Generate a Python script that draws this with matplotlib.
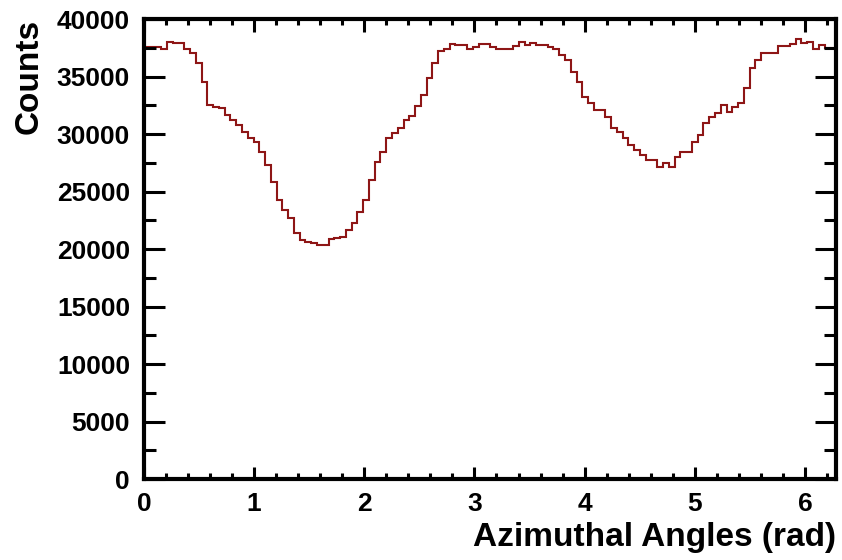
import numpy as np
import matplotlib
matplotlib.use('Agg')
import matplotlib.pyplot as plt
from matplotlib.ticker import MultipleLocator

# Azimuthal angle histogram, 120 bins over [0, 2pi]
nBins = 120
xMin = 0.0
xMax = 2 * np.pi
counts = [
    37560, 37560, 37560, 37380, 38050, 37900, 37900, 37380, 37030, 36160,
    34570, 32540, 32400, 32250, 31670, 31240, 30800, 30220, 29700, 29350,
    28480, 27320, 25870, 24280, 23410, 22680, 21380, 20800, 20650, 20510,
    20370, 20400, 20860, 20950, 21090, 21670, 22300, 23200, 24300, 26000,
    27600, 28490, 29650, 30090, 30520, 31250, 31540, 32410, 33430, 34870,
    36180, 37200, 37380, 37820, 37760, 37760, 37380, 37610, 37850, 37850,
    37610, 37380, 37380, 37380, 37670, 38050, 37760, 37900, 37760, 37760,
    37610, 37380, 36890, 36450, 35440, 34570, 33270, 32690, 32110, 32110,
    31530, 30510, 30220, 29640, 29100, 28630, 28190, 27760, 27760, 27120,
    27470, 27120, 28050, 28490, 28490, 29350, 29930, 30940, 31530, 31820,
    32540, 31960, 32400, 32690, 34000, 35730, 36460, 37100, 37040, 37040,
    37670, 37670, 37850, 38250, 37960, 38050, 37380, 37760, 37470, 37470,
]
yTicks = [0, 5000, 10000, 15000, 20000, 25000, 30000, 35000, 40000]
xLabel = 'Azimuthal Angles (rad)'
yLabel = 'Counts'

plt.rcParams['font.family'] = ['Liberation Sans', 'DejaVu Sans']
plt.rcParams['font.weight'] = 'bold'

edges = np.linspace(xMin, xMax, nBins + 1)

fig = plt.figure(figsize=(8.42, 5.6), dpi=100)
ax = fig.add_axes([0.171, 0.1443, 0.822, 0.8214])

ax.stairs(counts, edges, color='#8e1616', linewidth=1.5)

ax.set_xlim(xMin, xMax)
ax.set_ylim(0, 40000)
ax.set_yticks(yTicks)
ax.xaxis.set_major_locator(MultipleLocator(1))
ax.xaxis.set_minor_locator(MultipleLocator(0.2))
ax.yaxis.set_minor_locator(MultipleLocator(2500))

ax.tick_params(axis='both', which='both', direction='in', top=True, right=True,
               labelsize=19, width=2.2, colors='black')
ax.tick_params(axis='x', which='major', length=9, pad=9)
ax.tick_params(axis='x', which='minor', length=4.5)
ax.tick_params(axis='y', which='major', length=15, pad=10)
ax.tick_params(axis='y', which='minor', length=8.5)
for lab in ax.get_xticklabels() + ax.get_yticklabels():
    lab.set_fontweight('bold')

for spine in ax.spines.values():
    spine.set_linewidth(3)

ax.set_xlabel(xLabel, fontsize=24, fontweight='bold', loc='right')
ax.set_ylabel(yLabel, fontsize=24, fontweight='bold', loc='top')
ax.xaxis.set_label_coords(1.0, -0.094)
ax.yaxis.set_label_coords(-0.143, 1.0)

fig.savefig('out.png', dpi=100)
